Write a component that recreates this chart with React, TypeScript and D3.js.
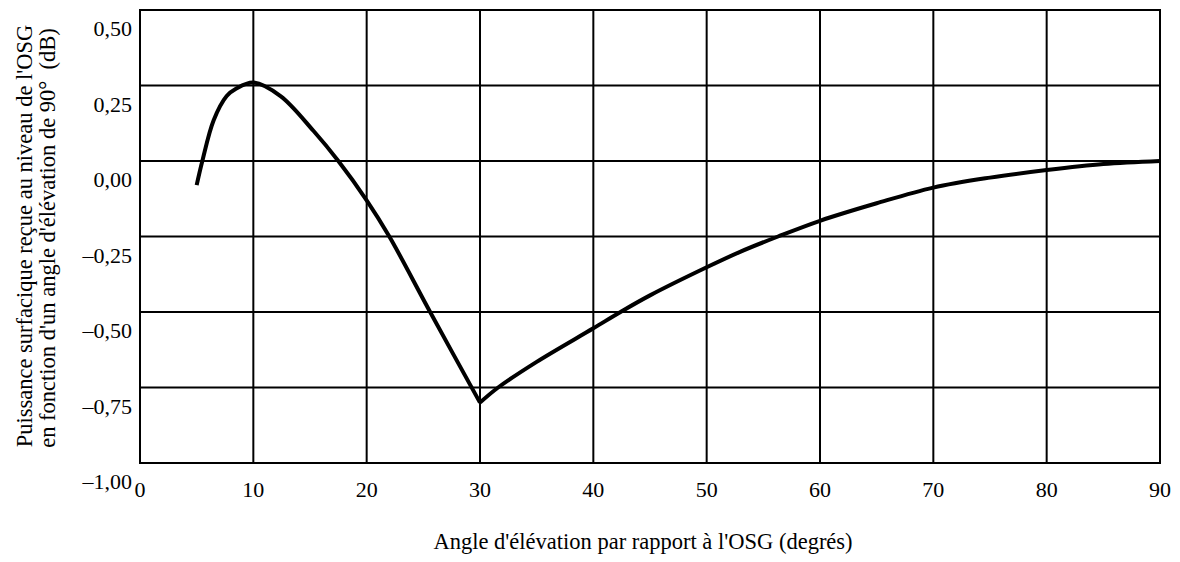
import React from "react";
import * as d3 from "d3";

const angles = [5, 5.5, 6.5, 7.65, 8.5, 10, 12.4, 15.3, 17.5, 20, 22, 25.6, 30, 31.6, 35, 40, 42.4, 45, 50, 53, 56.3, 60, 65, 70, 75, 80, 85, 90];
const powerDb = [-0.08, 0.0, 0.135, 0.215, 0.24, 0.26, 0.215, 0.1, 0.0, -0.13, -0.25, -0.5, -0.8, -0.75, -0.665, -0.554, -0.5, -0.445, -0.352, -0.3, -0.25, -0.198, -0.14, -0.088, -0.055, -0.03, -0.01, 0.0];
const xTicks = [0, 10, 20, 30, 40, 50, 60, 70, 80, 90];
const yTicks = [0.5, 0.25, 0, -0.25, -0.5, -0.75, -1.0];
const yTickLabels = ["0,50", "0,25", "0,00", "\u20130,25", "\u20130,50", "\u20130,75", "\u20131,00"];
const xTitle = "Angle d'élévation par rapport à l'OSG (degrés)";
const yTitle1 = "Puissance surfacique reçue au niveau de l'OSG";
const yTitle2 = "en fonction d'un angle d'élévation de 90°  (dB)";
const cuspAngle = 30;

const W = 1180, H = 562;
const L = 140, R = 1160, T = 10, B = 463;
const FONT = "'Liberation Serif', 'Times New Roman', serif";

export default function App() {
  const x = d3.scaleLinear().domain([0, 90]).range([L, R]);
  const y = d3.scaleLinear().domain([-1, 0.5]).range([B, T]);
  const pts = angles.map((a, i) => [a, powerDb[i]] as [number, number]);
  const left = pts.filter((p) => p[0] <= cuspAngle);
  const right = pts.filter((p) => p[0] >= cuspAngle);
  const line = d3
    .line<[number, number]>()
    .x((d) => x(d[0]))
    .y((d) => y(d[1]))
    .curve(d3.curveCatmullRom.alpha(0.5));

  return (
    <svg width={W} height={H} style={{ position: "absolute", left: 0, top: 0, background: "#fff" }} fontFamily={FONT}>
      <rect x={0} y={0} width={W} height={H} fill="#fff" />
      {xTicks.map((t) => (
        <line key={"gx" + t} x1={x(t)} x2={x(t)} y1={T} y2={B} stroke="#000" strokeWidth={2} />
      ))}
      {yTicks.map((t) => (
        <line key={"gy" + t} x1={L} x2={R} y1={y(t)} y2={y(t)} stroke="#000" strokeWidth={2} />
      ))}
      <rect x={L} y={T} width={R - L} height={B - T} fill="none" stroke="#000" strokeWidth={2} />
      <path d={line(left) || ""} fill="none" stroke="#000" strokeWidth={4} strokeLinejoin="miter" />
      <path d={line(right) || ""} fill="none" stroke="#000" strokeWidth={4} strokeLinejoin="miter" />
      {yTicks.map((t, i) => (
        <text key={"ty" + t} x={L - 8} y={y(t) + 26} textAnchor="end" fontSize={22} fill="#000">
          {yTickLabels[i]}
        </text>
      ))}
      {xTicks.map((t) => (
        <text key={"tx" + t} x={x(t)} y={B + 34} textAnchor="middle" fontSize={22} fill="#000">
          {t}
        </text>
      ))}
      <text x={643} y={549} textAnchor="middle" fontSize={22.5} fill="#000">
        {xTitle}
      </text>
      <text transform={`translate(32, 236) rotate(-90)`} textAnchor="middle" fontSize={22.5} fill="#000" style={{ whiteSpace: "pre" }}>
        {yTitle1}
      </text>
      <text transform={`translate(55, 238) rotate(-90)`} textAnchor="middle" fontSize={22.5} fill="#000" style={{ whiteSpace: "pre" }}>
        {yTitle2}
      </text>
    </svg>
  );
}
